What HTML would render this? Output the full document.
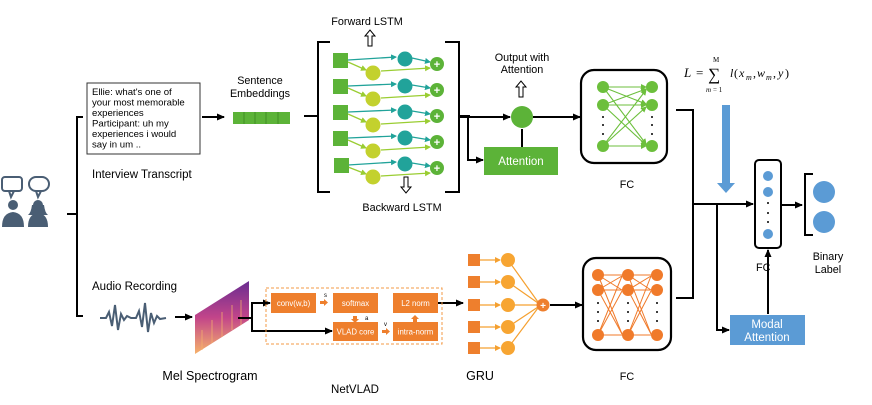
<!DOCTYPE html>
<html><head><meta charset="utf-8"><style>
html,body{margin:0;padding:0;background:#fff;}
svg{display:block;font-family:"Liberation Sans","DejaVu Sans",sans-serif;}
</style></head><body>
<svg width="872" height="405" viewBox="0 0 872 405" xmlns="http://www.w3.org/2000/svg">
<defs>
<marker id="ah" markerWidth="8" markerHeight="8" refX="7" refY="4" orient="auto" markerUnits="userSpaceOnUse"><path d="M0,0.5 L8,4 L0,7.5 z" fill="#000"/></marker>
<marker id="ag" markerWidth="6" markerHeight="6" refX="5" refY="3" orient="auto" markerUnits="userSpaceOnUse"><path d="M0,0 L6,3 L0,6 z" fill="#9acd32"/></marker>
<marker id="at" markerWidth="6" markerHeight="6" refX="5" refY="3" orient="auto" markerUnits="userSpaceOnUse"><path d="M0,0 L6,3 L0,6 z" fill="#21a39a"/></marker>
<marker id="ao" markerWidth="6" markerHeight="6" refX="5" refY="3" orient="auto" markerUnits="userSpaceOnUse"><path d="M0,0 L6,3 L0,6 z" fill="#f5a030"/></marker>
<marker id="agr" markerWidth="6" markerHeight="6" refX="5" refY="3" orient="auto" markerUnits="userSpaceOnUse"><path d="M0,0 L6,3 L0,6 z" fill="#6cbf3c"/></marker>
<linearGradient id="spec" x1="0" y1="0" x2="0" y2="1"><stop offset="0" stop-color="#6a2c91"/><stop offset="0.5" stop-color="#c2458a"/><stop offset="1" stop-color="#f6b26b"/></linearGradient>
</defs>

<g fill="none" stroke="#4a5e74" stroke-width="2">
<rect x="2" y="177" width="20" height="14" rx="3"/><path d="M9,191 L11,197 L14,191"/>
<rect x="29" y="177" width="20" height="14" rx="7"/><path d="M36,191 L38,197 L41,191"/>
</g>
<g fill="#4a5e74">
<circle cx="13" cy="205" r="5"/><path d="M2,227 Q2,213 13,212 Q24,213 24,227 z"/>
<circle cx="38" cy="205" r="5"/><path d="M32,205 Q31,213 28,215 L48,215 Q45,213 44,205 z"/><path d="M28,227 Q28,214 38,213 Q48,214 48,227 z"/>
</g>
<g stroke="#000" stroke-width="2" fill="none">
<path d="M67,214 H77 M83,117 H77 V316 H83"/>
</g>

<rect x="87" y="83" width="113" height="71" fill="#fff" stroke="#333" stroke-width="1"/>
<g font-size="9.6" fill="#000">
<text x="92" y="95">Ellie: what's one of</text>
<text x="92" y="105.5">your most memorable</text>
<text x="92" y="116">experiences</text>
<text x="92" y="126.5">Participant: uh my</text>
<text x="92" y="137">experiences i would</text>
<text x="92" y="147.5">say in um ..</text>
</g>
<text x="92" y="178" font-size="11.5">Interview Transcript</text>
<line x1="202" y1="117" x2="224" y2="117" stroke="#000" stroke-width="2" marker-end="url(#ah)"/>

<text x="260" y="84" font-size="10.8" text-anchor="middle">Sentence</text>
<text x="260" y="97" font-size="10.8" text-anchor="middle">Embeddings</text>
<rect x="233" y="112" width="57" height="12" fill="#5cb338"/>
<g stroke="#3f8f25" stroke-width="1"><line x1="244" y1="112" x2="244" y2="124"/><line x1="255" y1="112" x2="255" y2="124"/><line x1="266" y1="112" x2="266" y2="124"/><line x1="278" y1="112" x2="278" y2="124"/></g>

<g stroke="#000" stroke-width="2" fill="none">
<path d="M304,116 H318 M330,42 H318 V192 H330"/>
<path d="M445,42 H459 V192 H445 M459,116 H470"/>
</g>
<text x="367" y="25" font-size="10.8" text-anchor="middle">Forward LSTM</text>
<path d="M368,46 V36 H365 L370,30 L375,36 H372 V46 z" fill="#fff" stroke="#000"/>
<text x="402" y="211" font-size="10.8" text-anchor="middle">Backward LSTM</text>
<path d="M404,177 V187 H401 L406,193 L411,187 H408 V177 z" fill="#fff" stroke="#000"/>

<g stroke-width="1.3">
<line x1="348" y1="60" x2="396" y2="57" stroke="#21a39a" marker-end="url(#at)"/>
<line x1="348" y1="62" x2="366" y2="70" stroke="#9acd32" marker-end="url(#ag)"/>
<line x1="381" y1="71" x2="430" y2="68" stroke="#9acd32" marker-end="url(#ag)"/>
<line x1="412" y1="58" x2="430" y2="62" stroke="#21a39a" marker-end="url(#at)"/>
<line x1="348" y1="86" x2="396" y2="84" stroke="#21a39a" marker-end="url(#at)"/>
<line x1="348" y1="88" x2="366" y2="96" stroke="#9acd32" marker-end="url(#ag)"/>
<line x1="381" y1="98" x2="430" y2="95" stroke="#9acd32" marker-end="url(#ag)"/>
<line x1="412" y1="85" x2="430" y2="88" stroke="#21a39a" marker-end="url(#at)"/>
<line x1="348" y1="112" x2="396" y2="110" stroke="#21a39a" marker-end="url(#at)"/>
<line x1="348" y1="114" x2="366" y2="122" stroke="#9acd32" marker-end="url(#ag)"/>
<line x1="381" y1="124" x2="430" y2="121" stroke="#9acd32" marker-end="url(#ag)"/>
<line x1="412" y1="111" x2="430" y2="114" stroke="#21a39a" marker-end="url(#at)"/>
<line x1="348" y1="138" x2="396" y2="136" stroke="#21a39a" marker-end="url(#at)"/>
<line x1="348" y1="140" x2="366" y2="148" stroke="#9acd32" marker-end="url(#ag)"/>
<line x1="381" y1="150" x2="430" y2="147" stroke="#9acd32" marker-end="url(#ag)"/>
<line x1="412" y1="137" x2="430" y2="140" stroke="#21a39a" marker-end="url(#at)"/>
<line x1="348" y1="165" x2="396" y2="162" stroke="#21a39a" marker-end="url(#at)"/>
<line x1="348" y1="167" x2="366" y2="174" stroke="#9acd32" marker-end="url(#ag)"/>
<line x1="381" y1="176" x2="430" y2="173" stroke="#9acd32" marker-end="url(#ag)"/>
<line x1="412" y1="163" x2="430" y2="166" stroke="#21a39a" marker-end="url(#at)"/>
</g>
<g fill="#5cb338"><rect x="333" y="53" width="15" height="15"/><rect x="333" y="79" width="15" height="15"/><rect x="333" y="105" width="15" height="15"/><rect x="333" y="131" width="15" height="15"/><rect x="334" y="158" width="15" height="15"/></g>
<g fill="#c3d12e"><circle cx="373" cy="73" r="7.5"/><circle cx="373" cy="99" r="7.5"/><circle cx="373" cy="125" r="7.5"/><circle cx="373" cy="151" r="7.5"/><circle cx="373" cy="177" r="7.5"/></g>
<g fill="#21a39a"><circle cx="405" cy="59" r="7.5"/><circle cx="405" cy="86" r="7.5"/><circle cx="405" cy="112" r="7.5"/><circle cx="405" cy="138" r="7.5"/><circle cx="405" cy="164" r="7.5"/></g>
<g fill="#5cb338"><circle cx="437" cy="64" r="7"/><circle cx="437" cy="90" r="7"/><circle cx="437" cy="116" r="7"/><circle cx="437" cy="142" r="7"/><circle cx="437" cy="168" r="7"/></g>
<g fill="#fff" font-size="11" font-weight="bold" text-anchor="middle"><text x="437" y="68">+</text><text x="437" y="94">+</text><text x="437" y="120">+</text><text x="437" y="146">+</text><text x="437" y="172">+</text></g>

<text x="522" y="61" font-size="10.8" text-anchor="middle">Output with</text>
<text x="522" y="73" font-size="10.8" text-anchor="middle">Attention</text>
<path d="M519,97 V87 H516 L521,81 L526,87 H523 V97 z" fill="#fff" stroke="#000"/>
<g stroke="#000" stroke-width="2" fill="none">
<line x1="459" y1="117" x2="510" y2="117" marker-end="url(#ah)"/>
<path d="M468,117 V160 H483" marker-end="url(#ah)"/>
<line x1="522" y1="147" x2="522" y2="129"/>
<line x1="533" y1="117" x2="580" y2="117" marker-end="url(#ah)"/>
</g>
<circle cx="522" cy="117" r="11" fill="#5cb338"/>
<rect x="484" y="147" width="74" height="28" fill="#5cb338"/>
<text x="521" y="165" font-size="11.5" fill="#fff" text-anchor="middle">Attention</text>

<rect x="581" y="70" width="86" height="93" rx="13" fill="#fff" stroke="#000" stroke-width="2.2"/>
<g stroke="#6cbf3c" stroke-width="1.1">
<line x1="603" y1="87" x2="646" y2="87" marker-end="url(#agr)"/><line x1="603" y1="87" x2="646" y2="104" marker-end="url(#agr)"/><line x1="603" y1="87" x2="646" y2="144" marker-end="url(#agr)"/>
<line x1="603" y1="105" x2="646" y2="89" marker-end="url(#agr)"/><line x1="603" y1="105" x2="646" y2="105" marker-end="url(#agr)"/><line x1="603" y1="105" x2="646" y2="145" marker-end="url(#agr)"/>
<line x1="603" y1="146" x2="646" y2="90" marker-end="url(#agr)"/><line x1="603" y1="146" x2="646" y2="107" marker-end="url(#agr)"/><line x1="603" y1="146" x2="646" y2="146" marker-end="url(#agr)"/>
</g>
<g fill="#6cbf3c"><circle cx="603" cy="87" r="6"/><circle cx="603" cy="105" r="6"/><circle cx="603" cy="146" r="6"/><circle cx="652" cy="87" r="6"/><circle cx="652" cy="105" r="6"/><circle cx="652" cy="146" r="6"/></g>
<g fill="#000"><circle cx="603" cy="117" r="1"/><circle cx="603" cy="125" r="1"/><circle cx="603" cy="134" r="1"/><circle cx="652" cy="117" r="1"/><circle cx="652" cy="125" r="1"/><circle cx="652" cy="134" r="1"/></g>
<text x="627" y="188" font-size="10.8" text-anchor="middle">FC</text>

<text x="92" y="290" font-size="11.5">Audio Recording</text>
<path d="M100,318 L106,318 L109,312 L112,326 L115,305 L118,330 L121,314 L124,320 L127,316 L131,318 L136,318 L139,311 L142,327 L145,303 L148,332 L151,313 L154,323 L157,316 L160,319 L166,318" fill="none" stroke="#4a5e74" stroke-width="2"/>
<line x1="175" y1="317" x2="192" y2="317" stroke="#000" stroke-width="2" marker-end="url(#ah)"/>
<path d="M195,315 L249,281 L249,320 L195,354 z" fill="url(#spec)"/>
<g stroke="#f6b26b" stroke-opacity="0.5" stroke-width="1.5"><line x1="202" y1="330" x2="202" y2="350"/><line x1="212" y1="320" x2="212" y2="343"/><line x1="222" y1="312" x2="222" y2="337"/><line x1="232" y1="305" x2="232" y2="330"/><line x1="241" y1="300" x2="241" y2="325"/></g>
<text x="210" y="380" font-size="12.5" text-anchor="middle">Mel Spectrogram</text>

<g stroke="#000" stroke-width="2" fill="none">
<path d="M238,318 H252 V303 H270" marker-end="url(#ah)"/>
<path d="M252,318 V331 H332" marker-end="url(#ah)"/>
<line x1="438" y1="303" x2="463" y2="303" marker-end="url(#ah)"/>
</g>
<rect x="266" y="288" width="176" height="56" fill="none" stroke="#f39a45" stroke-width="1" stroke-dasharray="3,2"/>
<g fill="#ee7f2d">
<rect x="271" y="293" width="45" height="20"/><rect x="333" y="293" width="45" height="20"/><rect x="393" y="293" width="45" height="20"/>
<rect x="333" y="322" width="45" height="19"/><rect x="393" y="322" width="45" height="19"/>
<path d="M320,301 h4 v-2 l4,3.5 l-4,3.5 v-2 h-4 z"/>
<path d="M353,316 h4 v3 h2 l-4,4 l-4,-4 h2 z"/>
<path d="M382,330 h4 v-2 l4,3.5 l-4,3.5 v-2 h-4 z"/>
<path d="M413,322 h4 v-3 h2 l-4,-4 l-4,4 h2 z"/>
</g>
<g font-size="7.8" fill="#fff" text-anchor="middle">
<text x="293.5" y="306">conv(w,b)</text><text x="355.5" y="306">softmax</text><text x="415.5" y="306">L2 norm</text>
<text x="355.5" y="334.5">VLAD core</text><text x="415.5" y="334.5">intra-norm</text>
</g>
<g font-size="6" fill="#000"><text x="324" y="297">s</text><text x="365" y="320">a</text><text x="384" y="326">v</text></g>
<text x="355" y="393" font-size="11.5" text-anchor="middle">NetVLAD</text>

<g stroke="#f5a030" stroke-width="1.2">
<line x1="480" y1="260" x2="500" y2="260" marker-end="url(#ao)"/><line x1="480" y1="282" x2="500" y2="282" marker-end="url(#ao)"/><line x1="480" y1="305" x2="500" y2="305" marker-end="url(#ao)"/><line x1="480" y1="327" x2="500" y2="327" marker-end="url(#ao)"/><line x1="480" y1="348" x2="500" y2="348" marker-end="url(#ao)"/>
<line x1="508" y1="260" x2="538" y2="302"/><line x1="508" y1="282" x2="538" y2="303"/><line x1="508" y1="305" x2="537" y2="305"/><line x1="508" y1="327" x2="538" y2="307"/><line x1="508" y1="348" x2="538" y2="308"/>
</g>
<g fill="#ee7f2d"><rect x="468" y="254" width="12" height="12"/><rect x="468" y="276" width="12" height="12"/><rect x="468" y="299" width="12" height="12"/><rect x="468" y="321" width="12" height="12"/><rect x="468" y="342" width="12" height="12"/></g>
<g fill="#f7a532"><circle cx="508" cy="260" r="7"/><circle cx="508" cy="282" r="7"/><circle cx="508" cy="305" r="7"/><circle cx="508" cy="327" r="7"/><circle cx="508" cy="348" r="7"/></g>
<circle cx="543" cy="305" r="6.5" fill="#ee7f2d"/><text x="543" y="309" font-size="10" fill="#fff" text-anchor="middle" font-weight="bold">+</text>
<line x1="550" y1="305" x2="582" y2="305" stroke="#000" stroke-width="2" marker-end="url(#ah)"/>
<text x="480" y="380" font-size="12.5" text-anchor="middle">GRU</text>

<rect x="583" y="258" width="88" height="92" rx="13" fill="#fff" stroke="#000" stroke-width="2.2"/>
<g stroke="#f07a2a" stroke-width="1">
<line x1="598" y1="275" x2="622" y2="275"/><line x1="598" y1="275" x2="622" y2="290"/><line x1="598" y1="275" x2="622" y2="334"/>
<line x1="598" y1="290" x2="622" y2="276"/><line x1="598" y1="290" x2="622" y2="290"/><line x1="598" y1="290" x2="622" y2="334"/>
<line x1="598" y1="335" x2="622" y2="276"/><line x1="598" y1="335" x2="622" y2="291"/><line x1="598" y1="335" x2="622" y2="335"/>
<line x1="628" y1="275" x2="651" y2="275"/><line x1="628" y1="275" x2="651" y2="290"/><line x1="628" y1="275" x2="651" y2="334"/>
<line x1="628" y1="290" x2="651" y2="276"/><line x1="628" y1="290" x2="651" y2="290"/><line x1="628" y1="290" x2="651" y2="334"/>
<line x1="628" y1="335" x2="651" y2="276"/><line x1="628" y1="335" x2="651" y2="291"/><line x1="628" y1="335" x2="651" y2="335"/>
</g>
<g fill="#f07a2a"><circle cx="598" cy="275" r="6"/><circle cx="598" cy="290" r="6"/><circle cx="598" cy="335" r="6"/><circle cx="628" cy="275" r="6"/><circle cx="628" cy="290" r="6"/><circle cx="628" cy="335" r="6"/><circle cx="657" cy="275" r="6"/><circle cx="657" cy="290" r="6"/><circle cx="657" cy="335" r="6"/></g>
<g fill="#000"><circle cx="598" cy="303" r="1"/><circle cx="598" cy="312" r="1"/><circle cx="598" cy="321" r="1"/><circle cx="628" cy="303" r="1"/><circle cx="628" cy="312" r="1"/><circle cx="628" cy="321" r="1"/><circle cx="657" cy="303" r="1"/><circle cx="657" cy="312" r="1"/><circle cx="657" cy="321" r="1"/></g>
<text x="627" y="380" font-size="10.8" text-anchor="middle">FC</text>

<g stroke="#000" stroke-width="2" fill="none">
<path d="M676,110 H693 V298 H676"/>
<line x1="693" y1="204" x2="753" y2="204" marker-end="url(#ah)"/>
<path d="M717,204 V330 H729" marker-end="url(#ah)"/>
<line x1="768" y1="314" x2="768" y2="250" marker-end="url(#ah)"/>
<line x1="781" y1="205" x2="802" y2="205" marker-end="url(#ah)"/>
<path d="M813,174 H805 V235 H813"/>
</g>
<g font-family="Liberation Serif, serif" font-style="italic" fill="#000">
<text x="684" y="77" font-size="13">L</text>
<text x="696" y="77" font-size="13" font-style="normal">=</text>
<text x="708" y="80" font-size="17" font-style="normal">∑</text>
<text x="713" y="62" font-size="7" font-style="normal">M</text>
<text x="706" y="92" font-size="7">m</text><text x="713" y="92" font-size="7" font-style="normal">= 1</text>
<text x="730" y="77" font-size="12">l</text><text x="734" y="77" font-size="12" font-style="normal">(</text>
<text x="739" y="77" font-size="12">x</text><text x="746" y="80" font-size="8">m</text>
<text x="753" y="77" font-size="12" font-style="normal">,</text>
<text x="757" y="77" font-size="12">w</text><text x="766" y="80" font-size="8">m</text>
<text x="773" y="77" font-size="12" font-style="normal">,</text>
<text x="778" y="77" font-size="12">y</text><text x="785" y="77" font-size="12" font-style="normal">)</text>
</g>
<path d="M722,105 H730 V183 H735 L726,193 L717,183 H722 z" fill="#5b9bd5"/>
<rect x="755" y="160" width="26" height="88" rx="4" fill="#fff" stroke="#000" stroke-width="2"/>
<g fill="#5b9bd5"><circle cx="768" cy="176" r="5"/><circle cx="768" cy="192" r="5"/><circle cx="768" cy="234" r="5"/><circle cx="824" cy="192" r="11"/><circle cx="824" cy="222" r="11"/></g>
<g fill="#000"><circle cx="768" cy="203" r="1"/><circle cx="768" cy="213" r="1"/><circle cx="768" cy="222" r="1"/></g>
<text x="756" y="271" font-size="10.8">FC</text>
<text x="828" y="260" font-size="10.8" text-anchor="middle">Binary</text>
<text x="828" y="273" font-size="10.8" text-anchor="middle">Label</text>
<rect x="730" y="315" width="75" height="30" fill="#5b9bd5"/>
<text x="767" y="328" font-size="11.5" fill="#fff" text-anchor="middle">Modal</text>
<text x="767" y="341" font-size="11.5" fill="#fff" text-anchor="middle">Attention</text>
</svg>
</body></html>
